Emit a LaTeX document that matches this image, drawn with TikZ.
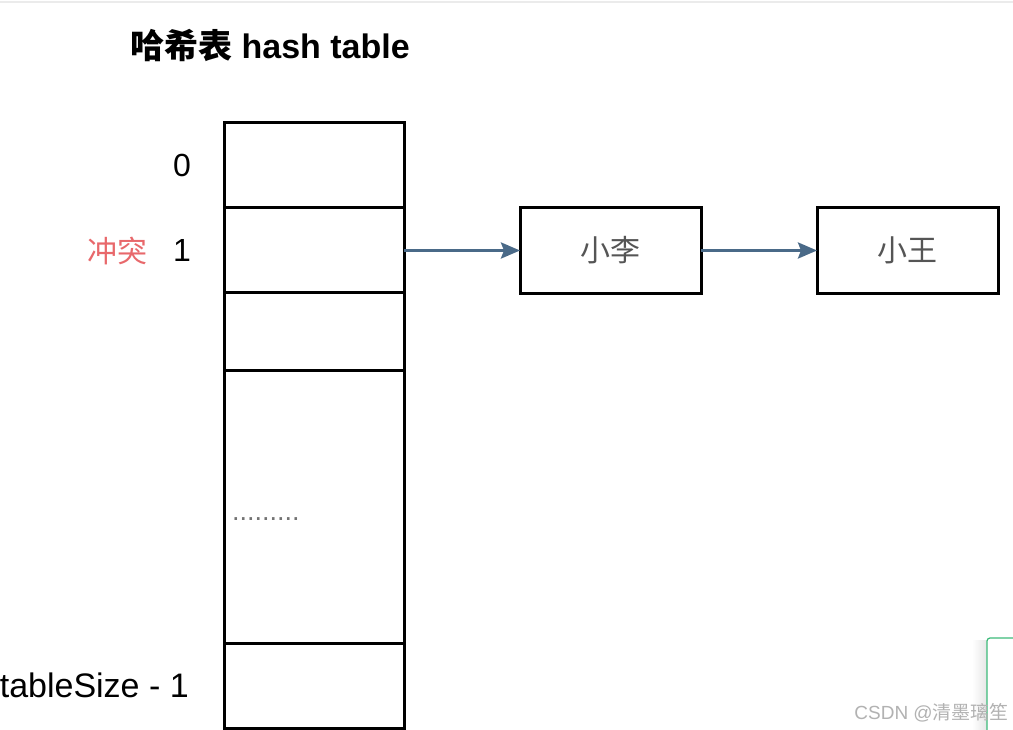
\documentclass[tikz,border=0pt]{standalone}
\usepackage{fontspec}
\setmainfont{Liberation Sans}
\newfontfamily\cjk{Noto Sans CJK SC}
\usetikzlibrary{arrows.meta, positioning}
\definecolor{mylink}{HTML}{4A6A88}
\definecolor{myred}{HTML}{E8686B}
\definecolor{mygray}{HTML}{555555}
\definecolor{mygreen}{HTML}{3DBB7A}
\tikzstyle{cell} = [draw=black, line width=3pt, minimum width=180pt, inner sep=0pt, outer sep=0pt]
\tikzstyle{item} = [draw=black, line width=3pt, minimum width=181pt, minimum height=86pt, outer sep=0pt, text=mygray, font=\fontsize{30}{36}\selectfont\cjk]
\tikzstyle{idx} = [inner sep=0pt, font=\fontsize{32}{38}\selectfont]
\tikzstyle{link} = [-{Stealth[length=19pt,width=16pt,inset=3pt]}, line width=3pt, mylink]

\begin{document}
\begin{tikzpicture}[x=1pt, y=-1pt, >=Stealth]
\clip (0,0) rectangle (1013,730);
\fill[white] (0,0) rectangle (1013,730);
\draw[black!8, line width=1.5pt] (0,2) -- (1013,2);

% title
\node[anchor=west, inner sep=0pt, font=\fontsize{34}{40}\selectfont\bfseries] (title)
at (130,46) {{\cjk 哈希表} hash table};

% the table
\node[cell, minimum height=85pt, anchor=north west] (cell0) at (224,123) {};
\node[cell, minimum height=85pt, below=0pt of cell0] (cell1) {};
\node[cell, minimum height=77pt, below=0pt of cell1] (cell2) {};
\node[cell, minimum height=273pt, below=0pt of cell2] (celldots) {};
\node[cell, minimum height=85pt, below=0pt of celldots] (celllast) {};

\node[anchor=base west, inner sep=0pt, text=black!55, font=\fontsize{27}{30}\selectfont] (dots)
at (232,520) {.........};

% indices
\node[idx, left=33pt of cell0] (idx0) {0};
\node[idx, left=33pt of cell1] (idx1) {1};
\node[idx, left=35pt of celllast, font=\fontsize{34}{40}\selectfont] (idxlast) {tableSize - 1};
\node[idx, left=25pt of idx1, text=myred, font=\fontsize{30}{36}\selectfont\cjk] (clash) {冲突};

% chain
\node[item, right=116pt of cell1] (li) {小李};
\node[item, right=116pt of li] (wang) {小王};

\draw[link] (cell1.east) -- (li.west);
\draw[link] (li.east) -- (wang.west);

% page corner
\shade[left color=white, right color=black!10] (972,640) rectangle (987,730);
\draw[mygreen, line width=1.2pt, fill=white, rounded corners=3pt] (987,638) rectangle (1040,760);
\node[anchor=east, inner sep=0pt, text=black!30, font=\fontsize{19}{23}\selectfont] (mark)
at (1009,713) {CSDN @{\cjk 清墨璃笙}};
\end{tikzpicture}
\end{document}
